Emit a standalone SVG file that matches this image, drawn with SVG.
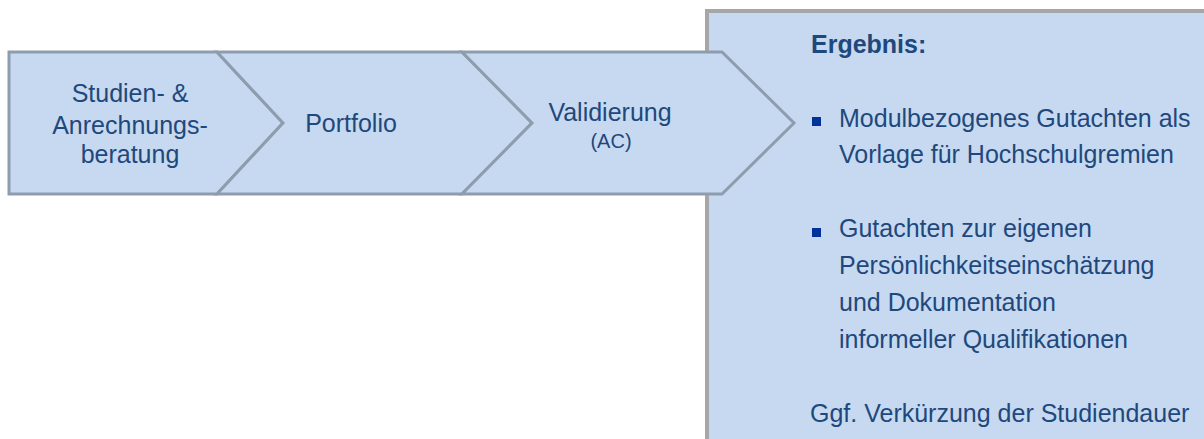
<svg xmlns="http://www.w3.org/2000/svg" width="1204" height="439" viewBox="0 0 1204 439">
<style>
.shape{fill:#c6d9f0;stroke:#8e9dae;stroke-width:3;stroke-linejoin:miter}
.box{fill:#c6d9f0;stroke:#a6a6a6;stroke-width:4}
.t{font-family:"Liberation Sans",Arial,sans-serif;font-size:25px;fill:#1f487c}
.c{text-anchor:middle}
.b{font-weight:bold}
.s{font-size:20px}
.bullet{fill:#003399}
</style>
<rect width="1204" height="439" fill="#ffffff"/>
<g id="result">
<rect class="box" x="707" y="11" width="520" height="450"/>
<text class="t b" x="811" y="53">Ergebnis:</text>
<rect class="bullet" x="812" y="117" width="9" height="9"/>
<text class="t" x="839" y="127">Modulbezogenes Gutachten als</text>
<text class="t" x="839" y="163">Vorlage für Hochschulgremien</text>
<rect class="bullet" x="812" y="228" width="9" height="9"/>
<text class="t" x="839" y="237">Gutachten zur eigenen</text>
<text class="t" x="839" y="274">Persönlichkeitseinschätzung</text>
<text class="t" x="839" y="311">und Dokumentation</text>
<text class="t" x="839" y="348">informeller Qualifikationen</text>
<text class="t" x="810" y="422">Ggf. Verkürzung der Studiendauer</text>
</g>
<g id="step1">
<polygon class="shape" points="9,52 217,52 283,123 217,194 9,194"/>
<text class="t c" x="130" y="102">Studien- &amp;</text>
<text class="t c" x="130" y="134">Anrechnungs-</text>
<text class="t c" x="130" y="163">beratung</text>
</g>
<g id="step2">
<polygon class="shape" points="217,52 462,52 532,123 462,194 217,194 283,123"/>
<text class="t c" x="351" y="132">Portfolio</text>
</g>
<g id="step3">
<polygon class="shape" points="462,52 722,52 794,123 722,194 462,194 532,123"/>
<text class="t c" x="610" y="121">Validierung</text>
<text class="t c s" x="611" y="148">(AC)</text>
</g>
<g id="connectors"></g>
</svg>
